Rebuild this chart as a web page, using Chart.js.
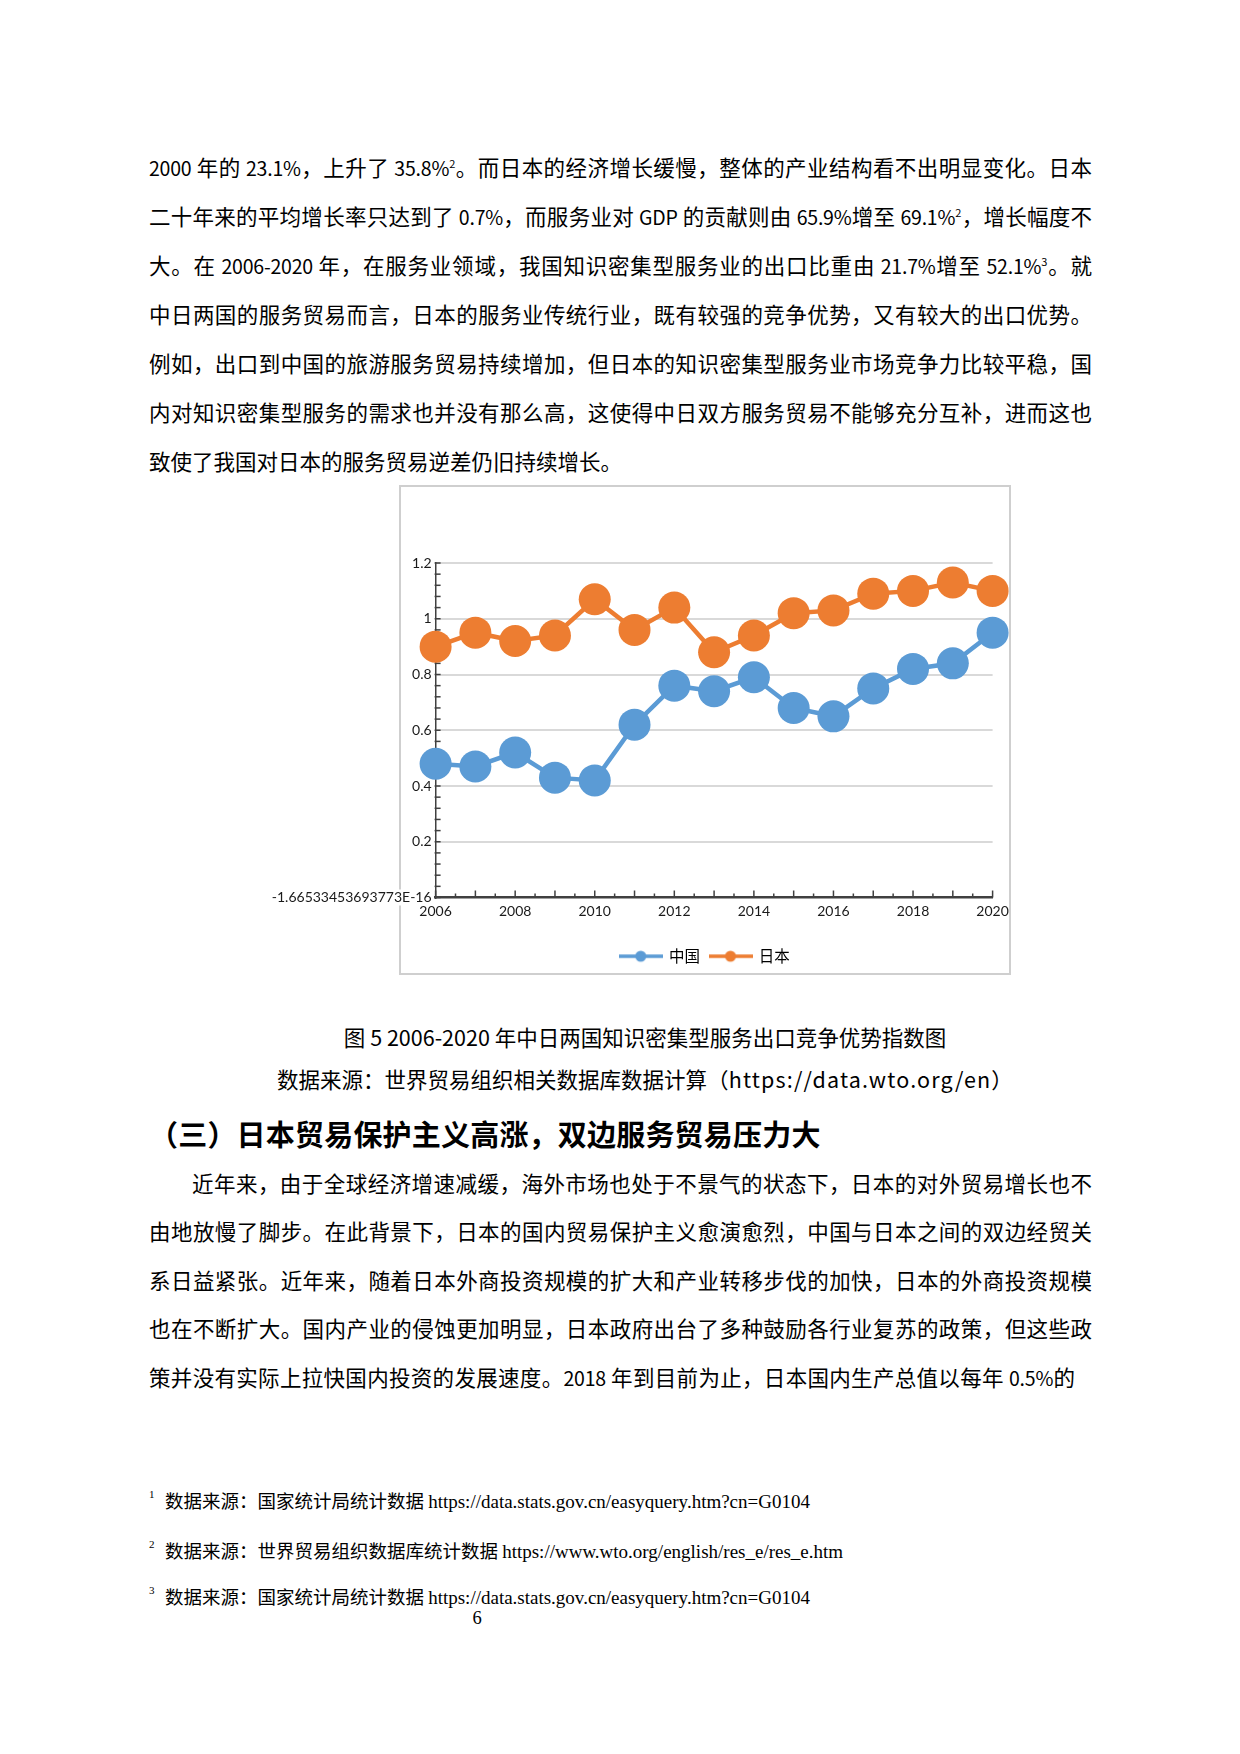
<!DOCTYPE html>
<html>
<head>
<meta charset="utf-8">
<script src="https://cdn.jsdelivr.net/npm/chart.js@4.4.1/dist/chart.umd.min.js"></script>
<style>
html,body{margin:0;padding:0;background:#fff;}
body{width:1240px;height:1754px;position:relative;overflow:hidden;font-family:"Noto Sans CJK SC",sans-serif;color:#000;}
.ln{position:absolute;left:149px;width:943px;height:30px;line-height:30px;font-size:21.5px;text-align:justify;text-align-last:justify;white-space:nowrap;}
.ln.last{text-align:left;text-align-last:left;}
.lt{font-size:19.5px;letter-spacing:-0.2px;}
.sup{position:relative;top:-8px;font-size:11px;line-height:0;}
.cap{position:absolute;left:0;width:1290px;text-align:center;height:30px;line-height:30px;font-size:21.5px;}
.cap .url{letter-spacing:1.2px;}
.h3{position:absolute;left:149px;top:1113px;height:40px;line-height:40px;font-size:29px;font-weight:bold;letter-spacing:0.2px;}
.fn{position:absolute;left:149px;height:26px;line-height:26px;font-size:18.5px;white-space:nowrap;}
.fn .n{position:absolute;left:0;top:-6px;font-size:11px;font-family:"Liberation Serif",serif;}
.fn .t{position:absolute;left:16px;top:0;}
.fn .u{font-family:"Liberation Serif",serif;font-size:19px;}
#frame{position:absolute;left:399px;top:485px;width:612px;height:490px;box-sizing:border-box;border:2px solid #cfcfcf;background:#fff;}
#chartWrap{position:absolute;left:260px;top:486px;width:890px;height:488px;}
</style>
</head>
<body>
<div class="ln" style="top:151.5px"><span class="lt">2000</span> 年的 <span class="lt">23.1%</span>，上升了 <span class="lt">35.8%</span><span class="sup">2</span>。而日本的经济增长缓慢，整体的产业结构看不出明显变化。日本</div>
<div class="ln" style="top:200.5px">二十年来的平均增长率只达到了 <span class="lt">0.7%</span>，而服务业对 <span class="lt">GDP</span> 的贡献则由 <span class="lt">65.9%</span>增至 <span class="lt">69.1%</span><span class="sup">2</span>，增长幅度不</div>
<div class="ln" style="top:249.5px">大。在 <span class="lt">2006-2020</span> 年，在服务业领域，我国知识密集型服务业的出口比重由 <span class="lt">21.7%</span>增至 <span class="lt">52.1%</span><span class="sup">3</span>。就</div>
<div class="ln" style="top:298.5px">中日两国的服务贸易而言，日本的服务业传统行业，既有较强的竞争优势，又有较大的出口优势。</div>
<div class="ln" style="top:347.5px">例如，出口到中国的旅游服务贸易持续增加，但日本的知识密集型服务业市场竞争力比较平稳，国</div>
<div class="ln" style="top:396.5px">内对知识密集型服务的需求也并没有那么高，这使得中日双方服务贸易不能够充分互补，进而这也</div>
<div class="ln last" style="top:445.5px">致使了我国对日本的服务贸易逆差仍旧持续增长。</div>

<div id="frame"></div>
<div id="chartWrap"><canvas id="c" width="890" height="488"></canvas></div>

<div class="cap" style="top:1022px">图 5 2006-2020 年中日两国知识密集型服务出口竞争优势指数图</div>
<div class="cap" style="top:1064px">数据来源：世界贸易组织相关数据库数据计算（<span class="url">https://data.wto.org/en</span>）</div>

<div class="h3">（三）日本贸易保护主义高涨，双边服务贸易压力大</div>

<div class="ln" style="top:1167.5px;left:192px;width:900px">近年来，由于全球经济增速减缓，海外市场也处于不景气的状态下，日本的对外贸易增长也不</div>
<div class="ln" style="top:1216px">由地放慢了脚步。在此背景下，日本的国内贸易保护主义愈演愈烈，中国与日本之间的双边经贸关</div>
<div class="ln" style="top:1264.5px">系日益紧张。近年来，随着日本外商投资规模的扩大和产业转移步伐的加快，日本的外商投资规模</div>
<div class="ln" style="top:1313px">也在不断扩大。国内产业的侵蚀更加明显，日本政府出台了多种鼓励各行业复苏的政策，但这些政</div>
<div class="ln" style="top:1361.5px;width:926px">策并没有实际上拉快国内投资的发展速度。<span class="lt">2018</span> 年到目前为止，日本国内生产总值以每年 <span class="lt">0.5%</span>的</div>

<div class="fn" style="top:1487px"><span class="n">1</span><span class="t">数据来源：国家统计局统计数据 <span class="u">https://data.stats.gov.cn/easyquery.htm?cn=G0104</span></span></div>
<div class="fn" style="top:1537px"><span class="n">2</span><span class="t">数据来源：世界贸易组织数据库统计数据 <span class="u">https://www.wto.org/english/res_e/res_e.htm</span></span></div>
<div class="fn" style="top:1583px"><span class="n">3</span><span class="t">数据来源：国家统计局统计数据 <span class="u">https://data.stats.gov.cn/easyquery.htm?cn=G0104</span></span></div>
<div style="position:absolute;left:470px;top:1605px;width:14px;text-align:center;font-family:'Liberation Serif',serif;font-size:18.5px;line-height:26px;">6</div>

<script>
// ---- data ----
const years = [2006, 2007, 2008, 2009, 2010, 2011, 2012, 2013, 2014, 2015, 2016, 2017, 2018, 2019, 2020];
const chinaValues = [0.48, 0.47, 0.52, 0.43, 0.42, 0.62, 0.76, 0.74, 0.79, 0.68, 0.65, 0.75, 0.82, 0.84, 0.95];
const japanValues = [0.90, 0.95, 0.92, 0.94, 1.07, 0.96, 1.04, 0.88, 0.94, 1.02, 1.03, 1.09, 1.10, 1.13, 1.10];
const seriesNames = ['中国', '日本'];
const seriesColors = ['#5B9BD5', '#ED7D31'];
const yZeroLabel = '-1.66533453693773E-16';
const yMin = 0, yMax = 1.2, yStep = 0.2, yMinorStep = 0.04;
const xMin = 2006, xMax = 2020, xStep = 2, xMinorStep = 0.5;

function legendImage(color) {
  const cv = document.createElement('canvas');
  cv.width = 44; cv.height = 14;
  const g = cv.getContext('2d');
  g.strokeStyle = color; g.lineWidth = 3.5;
  g.beginPath(); g.moveTo(0, 7); g.lineTo(44, 7); g.stroke();
  g.fillStyle = color;
  g.beginPath(); g.arc(22, 7, 5.5, 0, Math.PI * 2); g.fill();
  return cv;
}

const tickFont = { family: 'Lato, Carlito, sans-serif', size: 14 };
const tickColor = '#1a1a1a';

const axisDecor = {
  id: 'axisDecor',
  beforeDraw(chart) {
    const { ctx, scales: { y } } = chart;
    const py = y.getPixelForValue(yMin);
    ctx.save();
    ctx.font = `${tickFont.size}px ${tickFont.family}`;
    const w = ctx.measureText(yZeroLabel).width;
    ctx.fillStyle = '#fff';
    ctx.fillRect(y.right - 4 - w - 1, py - 8, w + 2, 16);
    ctx.restore();
  },
  beforeDatasetsDraw(chart) {
    const { ctx, scales: { x, y } } = chart;
    ctx.save();
    ctx.strokeStyle = '#404040';
    ctx.lineWidth = 1.5;
    const nX = Math.round((xMax - xMin) / xMinorStep);
    for (let i = 0; i <= nX; i++) {
      const v = xMin + i * xMinorStep;
      const px = x.getPixelForValue(v);
      const len = (i % 2 === 0) ? 7 : 4;
      ctx.beginPath(); ctx.moveTo(px, y.bottom); ctx.lineTo(px, y.bottom - len); ctx.stroke();
    }
    const nY = Math.round((yMax - yMin) / yMinorStep);
    for (let i = 0; i <= nY; i++) {
      const py = y.getPixelForValue(yMin + i * yMinorStep);
      ctx.beginPath(); ctx.moveTo(x.left - 1, py); ctx.lineTo(x.left + 5, py); ctx.stroke();
    }
    ctx.restore();
  }
};

const datasets = [chinaValues, japanValues].map((vals, i) => ({
  label: seriesNames[i],
  data: years.map((yr, k) => ({ x: yr, y: vals[k] })),
  borderColor: seriesColors[i],
  backgroundColor: seriesColors[i],
  borderWidth: 4.5,
  pointRadius: 16,
  pointHoverRadius: 16,
  pointBorderWidth: 0,
  pointStyle: 'circle',
  tension: 0,
  clip: false,
  xAxisID: 'x',
  yAxisID: 'y'
}));

new Chart(document.getElementById('c'), {
  type: 'line',
  data: { datasets },
  plugins: [axisDecor],
  options: {
    responsive: false,
    animation: false,
    events: [],
    layout: { padding: { left: 0, right: 0, top: 77, bottom: 0 } },
    plugins: {
      tooltip: { enabled: false },
      legend: {
        position: 'bottom',
        labels: {
          usePointStyle: true,
          pointStyleWidth: 41,
          padding: 10,
          color: '#000',
          font: { family: '"Noto Sans CJK SC", sans-serif', size: 15.5 },
          generateLabels(chart) {
            return chart.data.datasets.map((ds, i) => ({
              text: ds.label,
              pointStyle: legendImage(ds.borderColor),
              fillStyle: ds.borderColor,
              strokeStyle: ds.borderColor,
              lineWidth: 0,
              hidden: false,
              datasetIndex: i,
              fontColor: '#000'
            }));
          }
        }
      }
    },
    scales: {
      x: {
        type: 'linear',
        min: xMin, max: xMax,
        afterFit(s) { s.height = 41; },
        grid: { display: false, drawTicks: false },
        border: { display: true, color: '#404040', width: 2.5 },
        ticks: { stepSize: xStep, padding: 6, color: tickColor, font: tickFont, maxRotation: 0, callback: v => String(v) }
      },
      y: {
        position: 'left',
        min: yMin, max: yMax,
        afterFit(s) { s.width = 175.6; },
        grid: {
          drawTicks: false,
          color: ctx => (ctx.tick && ctx.tick.value === yMin) ? 'rgba(0,0,0,0)' : '#d9d9d9',
          lineWidth: 2
        },
        border: { display: true, color: '#404040', width: 1.5 },
        ticks: {
          stepSize: yStep, padding: 4, color: tickColor, font: tickFont,
          callback: v => (Math.abs(v) < 1e-9 ? yZeroLabel : String(Math.round(v * 10) / 10))
        }
      },
      ySpacer: {
        position: 'right',
        afterFit(s) { s.width = 157.4; },
        grid: { display: false, drawTicks: false },
        border: { display: false },
        ticks: { display: false }
      }
    }
  }
});
</script>
</body>
</html>
